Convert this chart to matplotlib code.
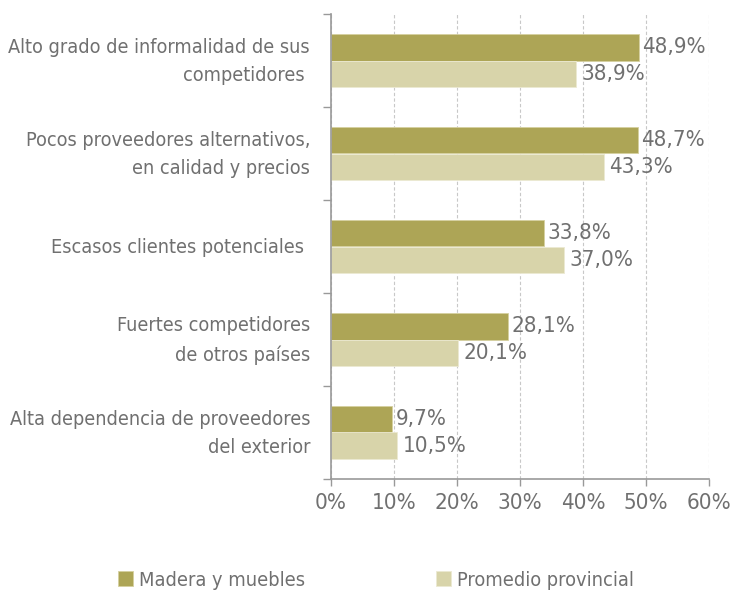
import numpy as np
import matplotlib.pyplot as plt

# Data
categorias = ['Alto grado de informalidad de sus\ncompetidores ',
              'Pocos proveedores alternativos,\nen calidad y precios',
              'Escasos clientes potenciales ',
              'Fuertes competidores\nde otros países',
              'Alta dependencia de proveedores\ndel exterior']
madera = [48.9, 48.7, 33.8, 28.1, 9.7]
promedio = [38.9, 43.3, 37.0, 20.1, 10.5]
series = ['Madera y muebles', 'Promedio provincial']
xticks = [0, 10, 20, 30, 40, 50, 60]

plt.rcParams['font.family'] = ['DejaVu Sans']
plt.rcParams['font.stretch'] = 'condensed'

c1 = '#ada556'
c2 = '#d8d4aa'
tcol = '#707070'
acol = '#999999'

fig = plt.figure(figsize=(7.32, 5.94), dpi=100)
ax = fig.add_axes([331/732, 1 - 479/594, (709 - 331)/732, (479 - 14)/594])

y = np.arange(len(categorias))
h = 0.28
b1 = ax.barh(y - h/2, madera, height=h, color=c1, edgecolor='#d6d0a0', linewidth=0.6)
b2 = ax.barh(y + h/2, promedio, height=h, color=c2, edgecolor='#ece9d2', linewidth=0.6)

for v, yy in zip(madera, y - h/2):
    ax.text(v + 0.5, yy, f'{v:.1f}%'.replace('.', ','), va='center', ha='left',
            color=tcol, fontsize=16)
for v, yy in zip(promedio, y + h/2):
    ax.text(v + 0.9, yy, f'{v:.1f}%'.replace('.', ','), va='center', ha='left',
            color=tcol, fontsize=16)

# category labels, right aligned next to the axis
for lab, yy in zip(categorias, y):
    ax.annotate(lab, xy=(0, yy), xycoords=('axes fraction', 'data'),
                xytext=(-21, -1), textcoords='offset pixels',
                ha='right', va='center', multialignment='right',
                color=tcol, fontsize=14.2, linespacing=1.65)

ax.set_xlim(0, 60)
ax.set_ylim(len(categorias) - 0.5, -0.5)
ax.set_xticks(xticks)
ax.set_xticklabels([f'{t}%' for t in xticks], color=tcol, fontsize=16)
ax.set_yticks(np.arange(len(categorias) + 1) - 0.5)
ax.set_yticklabels([])
ax.tick_params(axis='y', length=6, color=acol, width=1)
ax.tick_params(axis='x', length=5, color=acol, width=1, pad=5)

ax.xaxis.grid(True, linestyle=(0, (3, 2)), color='#c8c8c8', linewidth=0.8)
ax.set_axisbelow(True)
for s in ['top', 'right']:
    ax.spines[s].set_visible(False)
for s in ['left', 'bottom']:
    ax.spines[s].set_color(acol)
    ax.spines[s].set_linewidth(1.2)

fig.legend([b1, b2], series, loc='center', bbox_to_anchor=(376/732, 1 - 580/594),
           ncol=2, frameon=False, fontsize=14.3, labelcolor=tcol,
           handlelength=0.75, handleheight=0.75, handletextpad=0.3, columnspacing=6.6)

fig.savefig('out.png', dpi=100)
